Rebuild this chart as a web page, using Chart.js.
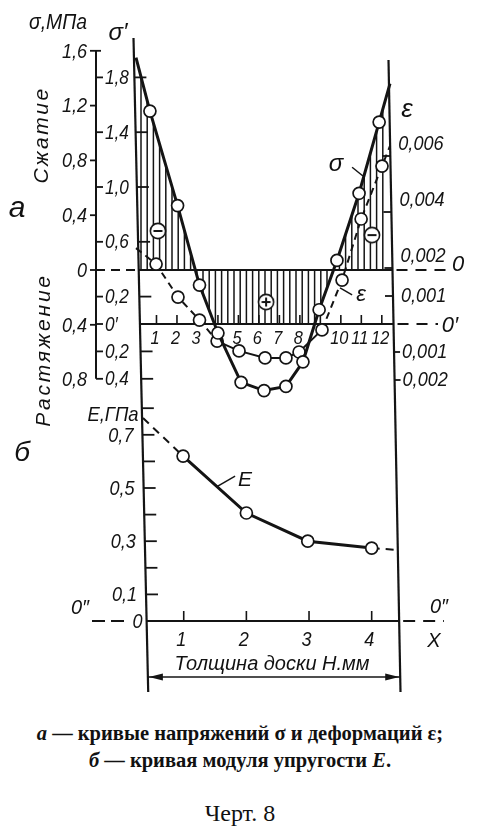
<!DOCTYPE html>
<html><head><meta charset="utf-8">
<script src="https://cdn.jsdelivr.net/npm/chart.js@4.4.0/dist/chart.umd.min.js"></script>
<style>
html,body{margin:0;padding:0;background:#fff;}
#page{position:relative;width:480px;height:834px;overflow:hidden;background:#fff;}
canvas{position:absolute;left:0;}
.t{position:absolute;font-family:"Liberation Sans",Arial,sans-serif;font-style:italic;color:#111;white-space:nowrap;line-height:1;}
.cap{position:absolute;left:0;width:480px;text-align:center;font-family:"Liberation Serif","Times New Roman",serif;color:#111;white-space:nowrap;line-height:1;}
</style></head><body><div id="page">
<canvas id="chartA" width="480" height="400" style="top:0px"></canvas>
<canvas id="chartB" width="480" height="310" style="top:390px"></canvas>

<div class="t" style="left:58px;top:22px;font-size:22px;transform:translate(-50%,-50%) scaleX(.88)">σ,МПа</div>
<div class="t" style="left:118px;top:32px;font-size:24px;transform:translate(-50%,-50%)">σ′</div>
<div class="t" style="left:407px;top:108px;font-size:26px;transform:translate(-50%,-50%)">ε</div>
<div class="t" style="left:336px;top:163px;font-size:24px;transform:translate(-50%,-50%)">σ</div>
<div class="t" style="left:361px;top:294px;font-size:22px;transform:translate(-50%,-50%)">ε</div>
<div class="t" style="left:458px;top:264px;font-size:22px;transform:translate(-50%,-50%)">0</div>
<div class="t" style="left:450px;top:325px;font-size:22px;transform:translate(-50%,-50%)">0′</div>
<div class="t" style="left:17px;top:207px;font-size:30px;transform:translate(-50%,-50%)">а</div>
<div class="t" style="left:22px;top:452px;font-size:28px;transform:translate(-50%,-50%)">б</div>
<div class="t" style="left:40px;top:135px;font-size:21px;letter-spacing:2.5px;transform:translate(-50%,-50%) rotate(-90deg)">Сжатие</div>
<div class="t" style="left:42px;top:350px;font-size:21px;letter-spacing:2.8px;transform:translate(-50%,-50%) rotate(-90deg)">Растяжение</div>
<div class="t" style="left:113px;top:413px;font-size:21px;transform:translate(-50%,-50%) scaleX(.88)">E,ГПа</div>
<div class="t" style="left:245px;top:478px;font-size:21px;transform:translate(-50%,-50%)">E</div>
<div class="t" style="left:80px;top:607px;font-size:20px;transform:translate(-50%,-50%)">0″</div>
<div class="t" style="left:439px;top:606px;font-size:20px;transform:translate(-50%,-50%)">0″</div>
<div class="t" style="left:434px;top:640px;font-size:20px;transform:translate(-50%,-50%)">X</div>
<div class="t" style="left:272px;top:663px;font-size:20px;transform:translate(-50%,-50%)">Толщина доски Н.мм</div>

<div class="cap" style="top:733px;font-size:20.5px;font-weight:bold;transform:translateY(-50%)"><i>а</i> — кривые напряжений σ и деформаций ε;</div>
<div class="cap" style="top:760px;font-size:20.5px;font-weight:bold;transform:translateY(-50%)"><i>б</i> — кривая модуля упругости <i>E</i>.</div>
<div class="cap" style="top:813px;font-size:24px;transform:translateY(-50%)">Черт. 8</div>
</div>
<script>
// ---------------- data ----------------
// a: stress σ (MPa) and strain ε across layers of the board
const sigmaLayer = [0.68, 2.03, 3.1, 4.0, 5.13, 6.25, 7.32, 8.15, 8.94, 9.81, 10.89, 11.87];
const sigmaMPa   = [1.16, 0.47, -0.11, -0.46, -0.82, -0.88, -0.85, -0.67, -0.29, 0.07, 0.56, 1.08];
const sigmaEdgeLayer = [0, 12.4];
const sigmaEdgeMPa   = [1.55, 1.36];

const epsLayer = [0.98, 2.05, 3.1, 3.96, 5.03, 6.3, 7.32, 7.96, 9.08, 10.06, 10.99, 12.01];
const epsValue = [0.00214, 0.00096, 0.00014, -0.00061, -0.00096, -0.00121, -0.00121, -0.00100, -0.00021, 0.00157, 0.00375, 0.00564];
const epsEdgeLayer = [0, 12.4];
const epsEdgeValue = [0.00271, 0.00636];

const signLayer = [1.07, 11.52, 6.35];
const signMPa   = [0.285, 0.255, -0.234];
const signKind  = ['minus', 'minus', 'plus'];

// б: modulus of elasticity E (GPa) vs board thickness H (mm)
const thicknessMM = [0.99, 2.0, 2.98, 4.0];
const modulusGPa  = [0.62, 0.406, 0.30, 0.274];
const modulusEdgeMM  = [0.35, 4.42];
const modulusEdgeGPa = [0.763, 0.267];

// tick values / labels
const sigmaTicks      = [1.6, 1.2, 0.8, 0.4, 0, -0.4, -0.8];
const sigmaPrimeTicks = [1.8, 1.4, 1.0, 0.6, 0.2, 0, -0.2, -0.4];
const epsTicks        = [0.006, 0.004, 0.002, 0.001, -0.001, -0.002];
const layerTicks      = [1, 2, 3, 4, 5, 6, 7, 8, 9, 10, 11, 12];
const layerTickLabels = ['1', '2', '3', '', '5', '6', '7', '8', '', '10', '11', '12'];
const modulusTicks      = [0.8, 0.7, 0.6, 0.5, 0.4, 0.3, 0.2, 0.1, 0];
const modulusTickLabels = ['', '0,7', '', '0,5', '', '0,3', '', '0,1', '0'];
const thicknessTicks = [1, 2, 3, 4];

// annotation leaders (in data units)
const sigmaLeaderLayer = [10.55, 11.08], sigmaLeaderMPa = [0.75, 0.686];
const epsLeaderLayer = [9.96, 10.55], epsLeaderValue = [0.00129, 0.00104];
const modLeaderMM = [1.53, 1.82], modLeaderGPa = [0.505, 0.545];

// ---------------- drawing helpers ----------------
const INK = '#141414';
const OFF_B = 390; // page top of the second canvas
function bL(y) { return 133.5 + 0.0225 * (y - 38); }   // left frame line (page coords)
function bR(y) { return 388.5 + 0.019 * (y - 60); }    // right frame line (page coords)
function seg(ctx, x1, y1, x2, y2, w, dash) {
  ctx.save(); ctx.lineWidth = w || 2; ctx.strokeStyle = INK;
  if (dash) ctx.setLineDash(dash);
  ctx.beginPath(); ctx.moveTo(x1, y1); ctx.lineTo(x2, y2); ctx.stroke(); ctx.restore();
}
function label(ctx, s, x, y, size, align, sx) {
  ctx.save(); ctx.translate(x, y); ctx.scale(sx || 0.86, 1);
  ctx.font = 'italic ' + size + 'px "Liberation Sans", Arial, sans-serif';
  ctx.fillStyle = INK; ctx.textAlign = align || 'center'; ctx.textBaseline = 'middle';
  ctx.fillText(s, 0, 0); ctx.restore();
}
function fmt(v, d) { return v === 0 ? '0' : Math.abs(v).toFixed(d).replace('.', ','); }
function interpY(pts, px) {
  for (let i = 0; i < pts.length - 1; i++) {
    const a = pts[i], b = pts[i + 1];
    if (px >= a.x && px <= b.x) return a.y + (b.y - a.y) * (px - a.x) / (b.x - a.x);
  }
  return null;
}
function series(edgeX, edgeY, xs, ys) {
  return [{x: edgeX[0], y: edgeY[0]}]
    .concat(xs.map((x, i) => ({x, y: ys[i]})))
    .concat([{x: edgeX[1], y: edgeY[1]}]);
}
function radii(n, r) { return Array.from({length: n + 2}, (_, i) => (i === 0 || i === n + 1) ? 0 : r); }
function signImage(kind) {
  const c = document.createElement('canvas'); c.width = 20; c.height = 20;
  const g = c.getContext('2d');
  g.fillStyle = '#fff'; g.strokeStyle = INK; g.lineWidth = 1.6;
  g.beginPath(); g.arc(10, 10, 7.6, 0, Math.PI * 2); g.fill(); g.stroke();
  g.lineWidth = 2; g.beginPath(); g.moveTo(5.5, 10); g.lineTo(14.5, 10);
  if (kind === 'plus') { g.moveTo(10, 5.5); g.lineTo(10, 14.5); }
  g.stroke();
  return c;
}

// ---------------- chart а ----------------
const A = {top: 38, bottom: 398, zeroSig: 270, zeroPrime: 324, pxPerMPa: 137, pxPerEps: 28000, outerX: 96};
const frameA = {
  id: 'frameA',
  beforeDatasetsDraw(chart) {
    const {ctx, chartArea: ca, scales: s} = chart;
    const y0 = s.ySig.getPixelForValue(0), y0p = s.ySigP.getPixelForValue(0);
    // hatching between σ curve and the zero line (tension part limited by 0′)
    const pts = chart.getDatasetMeta(0).data.map(e => ({x: e.x, y: e.y}));
    for (let px = ca.left + 5; px <= ca.right - 2; px += 6.2) {
      const cy = interpY(pts, px); if (cy === null) continue;
      const yEnd = cy < y0 ? cy : Math.min(cy, y0p);
      if (Math.abs(yEnd - y0) < 1) continue;
      seg(ctx, px, y0, px, yEnd, 1.5);
    }
    // frame lines
    seg(ctx, bL(ca.top), ca.top, bL(ca.bottom), ca.bottom, 2.2);
    seg(ctx, bR(60), 60, bR(ca.bottom), ca.bottom, 2.2);
    // zero lines
    seg(ctx, bL(y0), y0, bR(y0), y0, 2.2);
    seg(ctx, A.outerX, y0, bL(y0), y0, 2, [9, 6]);
    seg(ctx, bR(y0) + 4, y0, 446, y0, 2, [11, 8]);
    seg(ctx, bL(y0p), y0p, bR(y0p), y0p, 2.2);
    seg(ctx, bR(y0p) + 4, y0p, 438, y0p, 2, [11, 8]);
    // layer axis ticks and labels
    layerTicks.forEach((v, i) => {
      const px = s.x.getPixelForValue(v);
      seg(ctx, px, y0p, px, y0p - 9, 1.6);
      if (layerTickLabels[i]) label(ctx, layerTickLabels[i], px - 1.5, y0p + 15, 19, 'center');
    });
    // outer σ axis
    const ox = A.outerX;
    seg(ctx, ox, s.ySig.getPixelForValue(1.6), ox, s.ySigP.getPixelForValue(-0.4), 2);
    sigmaTicks.forEach(v => {
      const py = s.ySig.getPixelForValue(v);
      if (v > -0.8) seg(ctx, ox - 6, py, ox + (v === 1.6 ? 5 : 0), py, 1.8);
      label(ctx, fmt(v, 1), ox - 9, py + 1, 21, 'right');
    });
    // σ′ axis (inner ticks on frame, labels between the two axes)
    sigmaPrimeTicks.forEach(v => {
      const py = s.ySigP.getPixelForValue(v);
      seg(ctx, ox, py, ox + 7, py, 1.8);
      if (v !== 0) seg(ctx, bL(py), py, bL(py) + 12, py, 1.8);
      label(ctx, v === 0 ? '0′' : fmt(v, 1), ox + 9, py + 1, 20, 'left');
    });
    // ε axis on the right frame
    epsTicks.forEach(v => {
      const py = s.yEps.getPixelForValue(v), x = bR(py);
      if (v > 0) seg(ctx, x - 8, py, x, py, 1.8); else seg(ctx, x, py, x + 6, py, 1.8);
      label(ctx, fmt(v, 3), x + 8, py - (v >= 0.002 ? 12 : 0), 21, 'left');
    });
    // leaders for σ and ε labels
    seg(ctx, s.x.getPixelForValue(sigmaLeaderLayer[0]), s.ySig.getPixelForValue(sigmaLeaderMPa[0]),
             s.x.getPixelForValue(sigmaLeaderLayer[1]), s.ySig.getPixelForValue(sigmaLeaderMPa[1]), 1.5);
    seg(ctx, s.x.getPixelForValue(epsLeaderLayer[0]), s.yEps.getPixelForValue(epsLeaderValue[0]),
             s.x.getPixelForValue(epsLeaderLayer[1]), s.yEps.getPixelForValue(epsLeaderValue[1]), 1.5);
  }
};

const sigData = series(sigmaEdgeLayer, sigmaEdgeMPa, sigmaLayer, sigmaMPa);
const epsData = series(epsEdgeLayer, epsEdgeValue, epsLayer, epsValue);
new Chart(document.getElementById('chartA'), {
  type: 'line',
  data: {datasets: [
    {label: 'σ', data: sigData, yAxisID: 'ySig', borderColor: INK, borderWidth: 3,
     pointRadius: radii(sigmaLayer.length, 6), pointBackgroundColor: '#fff', pointBorderColor: INK, pointBorderWidth: 1.7, clip: false},
    {label: 'ε', data: epsData, yAxisID: 'yEps', borderColor: INK, borderWidth: 2,
     segment: {borderDash: c => (c.p0DataIndex >= 4 && c.p0DataIndex <= 8) ? undefined : [7, 5]},
     pointRadius: radii(epsLayer.length, 6), pointBackgroundColor: '#fff', pointBorderColor: INK, pointBorderWidth: 1.7, clip: false},
    {label: 'знак', data: signLayer.map((x, i) => ({x, y: signMPa[i]})), yAxisID: 'ySig', showLine: false,
     pointStyle: signKind.map(signImage), pointRadius: 8, clip: false}
  ]},
  options: {
    responsive: false, animation: false, events: [],
    layout: {autoPadding: false, padding: {left: 136, right: 90, top: A.top, bottom: 400 - A.bottom}},
    plugins: {legend: {display: false}, tooltip: {enabled: false}},
    scales: {
      x: {type: 'linear', min: 0, max: 12.4, display: false},
      ySig: {type: 'linear', min: -(A.bottom - A.zeroSig) / A.pxPerMPa, max: (A.zeroSig - A.top) / A.pxPerMPa, display: false},
      ySigP: {type: 'linear', min: -(A.bottom - A.zeroPrime) / A.pxPerMPa, max: (A.zeroPrime - A.top) / A.pxPerMPa, display: false},
      yEps: {type: 'linear', min: -(A.bottom - A.zeroPrime) / A.pxPerEps, max: (A.zeroPrime - A.top) / A.pxPerEps, display: false}
    }
  },
  plugins: [frameA]
});

// ---------------- chart б ----------------
const B = {top: 400, zero: 621, pxPerGPa: 266, end: 692, dim: 677};
const frameB = {
  id: 'frameB',
  beforeDatasetsDraw(chart) {
    const {ctx, scales: s} = chart;
    const P = y => y - OFF_B; // page → canvas
    const top = 398;
    seg(ctx, bL(top), P(top), bL(B.end), P(B.end), 2.2);
    seg(ctx, bR(top), P(top), bR(B.end), P(B.end), 2.2);
    const y0 = s.y.getPixelForValue(0), y0g = y0 + OFF_B;
    seg(ctx, bL(y0g), y0, bR(y0g), y0, 2.2);
    seg(ctx, 92, y0, 127, y0, 2, [13, 6]);
    seg(ctx, bR(y0g) + 4, y0, 444, y0, 2, [12, 8]);
    thicknessTicks.forEach(v => {
      const px = s.x.getPixelForValue(v);
      seg(ctx, px, y0, px, y0 - 10, 1.6);
      label(ctx, String(v), px - 2.5, y0 + 19, 21, 'center');
    });
    modulusTicks.forEach((v, i) => {
      const py = s.y.getPixelForValue(v), x = bL(py + OFF_B);
      if (v !== 0) seg(ctx, x, py, x + 12, py, 1.8);
      if (modulusTickLabels[i]) label(ctx, modulusTickLabels[i], v === 0 ? x - 4 : x - 9, py + 1, 21, 'right');
    });
    // dimension line with arrows
    const yd = P(B.dim), xl = bL(B.dim), xr = bR(B.dim);
    seg(ctx, xl, yd, xr, yd, 1.6);
    ctx.save(); ctx.fillStyle = INK; ctx.beginPath();
    ctx.moveTo(xl + 1, yd); ctx.lineTo(xl + 15, yd - 3.5); ctx.lineTo(xl + 15, yd + 3.5); ctx.closePath();
    ctx.moveTo(xr - 1, yd); ctx.lineTo(xr - 15, yd - 3.5); ctx.lineTo(xr - 15, yd + 3.5); ctx.closePath();
    ctx.fill(); ctx.restore();
    seg(ctx, s.x.getPixelForValue(modLeaderMM[0]), s.y.getPixelForValue(modLeaderGPa[0]),
             s.x.getPixelForValue(modLeaderMM[1]), s.y.getPixelForValue(modLeaderGPa[1]), 1.5);
  }
};
const modData = series(modulusEdgeMM, modulusEdgeGPa, thicknessMM, modulusGPa);
new Chart(document.getElementById('chartB'), {
  type: 'line',
  data: {datasets: [
    {label: 'E', data: modData, borderColor: INK, borderWidth: 3,
     segment: {borderDash: c => (c.p0DataIndex === 0 || c.p0DataIndex === thicknessMM.length) ? [8, 6] : undefined,
               borderWidth: c => (c.p0DataIndex === 0 || c.p0DataIndex === thicknessMM.length) ? 2 : 3},
     pointRadius: radii(thicknessMM.length, 6), pointBackgroundColor: '#fff', pointBorderColor: INK, pointBorderWidth: 1.7, clip: false}
  ]},
  options: {
    responsive: false, animation: false, events: [],
    layout: {autoPadding: false, padding: {left: 143, right: 82, top: B.top - OFF_B, bottom: 310 - (B.zero - OFF_B)}},
    plugins: {legend: {display: false}, tooltip: {enabled: false}},
    scales: {
      x: {type: 'linear', min: modulusEdgeMM[0], max: modulusEdgeMM[1], display: false},
      y: {type: 'linear', min: 0, max: (B.zero - B.top) / B.pxPerGPa, display: false}
    }
  },
  plugins: [frameB]
});
</script>
</body></html>
